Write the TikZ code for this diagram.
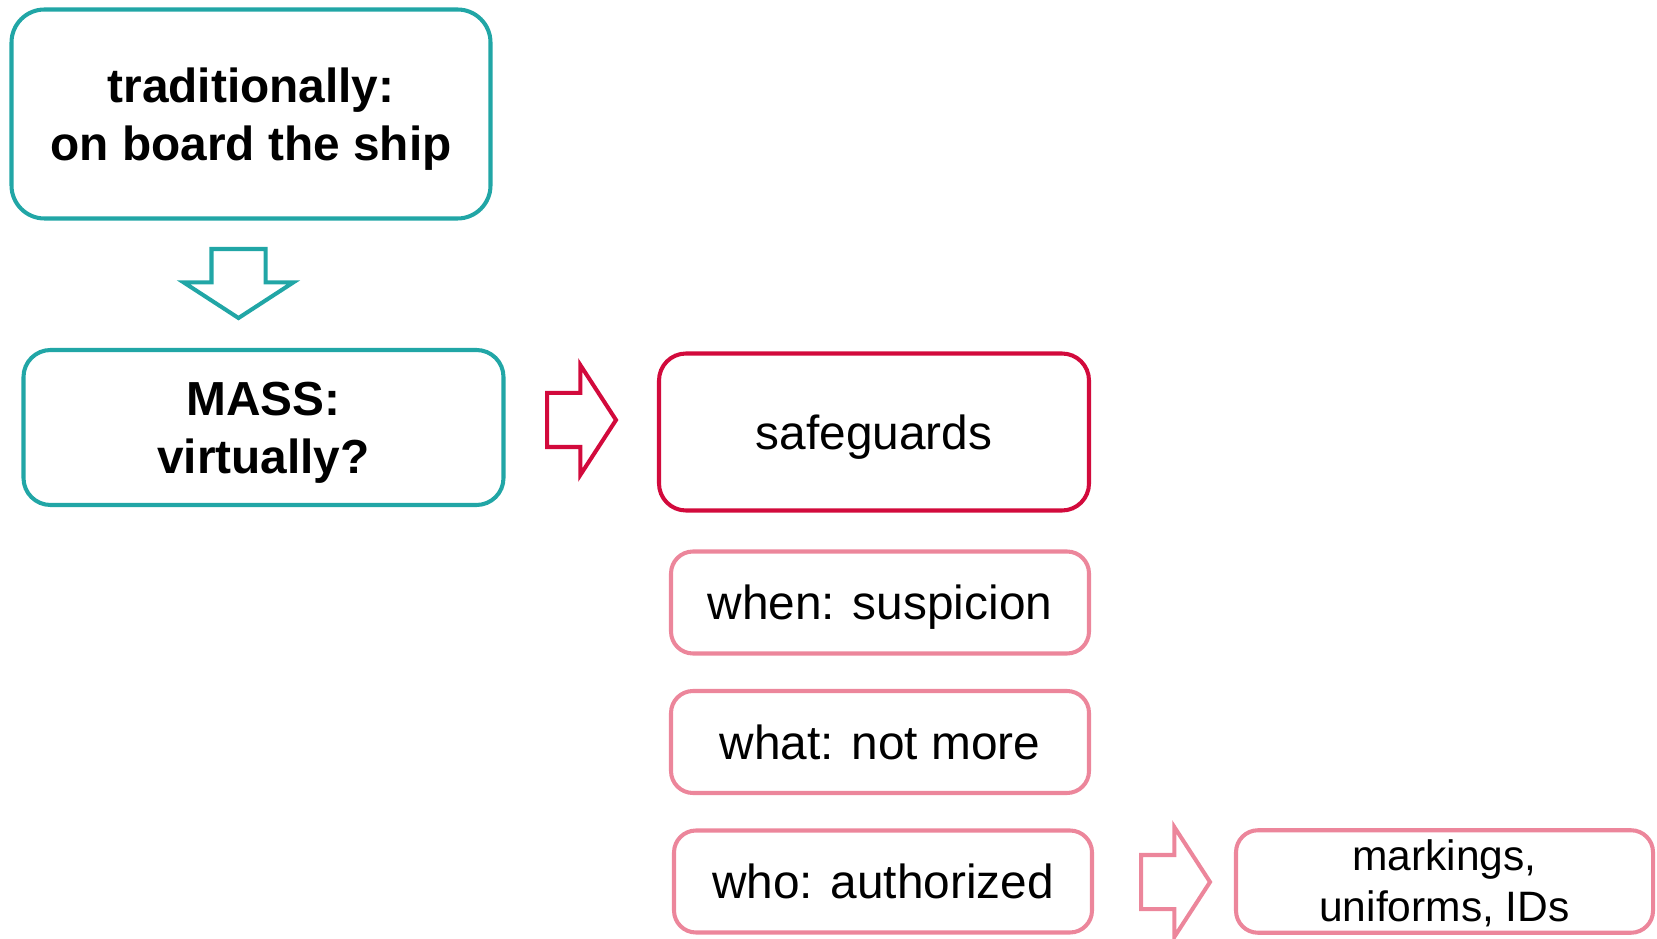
\documentclass[tikz,border=0pt]{standalone}
\usepackage{fontspec}
\setmainfont{Liberation Sans}
\usetikzlibrary{shapes.arrows}
\definecolor{tealline}{RGB}{33,166,166}
\definecolor{redline}{RGB}{210,10,60}
\definecolor{pinkline}{RGB}{236,134,155}
\tikzset{
    blockarrow/.style={single arrow,draw,line width=1.15pt,inner xsep=0pt,inner ysep=0.25cm,
        single arrow head extend=0.28cm,single arrow tip angle=114,minimum height=0.69cm,anchor=tail}
}
\begin{document}
\begin{tikzpicture}
        \useasboundingbox (0,0) rectangle (16.57,-9.39);

        \begin{scope}[every node/.style={draw=tealline,line width=1.15pt,rounded corners=0.27cm,align=center,
                font=\fontsize{13.6}{16.5}\selectfont\bfseries,text height=26.24pt,text depth=0pt}]
            \node[minimum width=4.79cm,minimum height=2.09cm,rounded corners=0.33cm] (trad) at (2.51,-1.14) {traditionally:\\on board the ship};
            \node[minimum width=4.80cm,minimum height=1.55cm] (mass) at (2.635,-4.275) {MASS:\\virtually?};
        \end{scope}
        \begin{scope}[every node/.style={line width=1.15pt,rounded corners=0.22cm,align=center,
                font=\fontsize{13.6}{14.5}\selectfont,minimum width=4.18cm,minimum height=1.02cm,
                text height=9.74pt,text depth=0pt}]
            \node[draw=redline,rounded corners=0.27cm,minimum width=4.30cm,minimum height=1.57cm] (safe) at (8.74,-4.32) {safeguards};
            \node[draw=pinkline] (when) at (8.80,-6.025) {when: suspicion};
            \node[draw=pinkline] (what) at (8.80,-7.42) {what: not more};
            \node[draw=pinkline] (who) at (8.83,-8.815) {who: authorized};
            \node[draw=pinkline,minimum width=4.17cm,font=\fontsize{12.1}{14.4}\selectfont,text height=22.5pt] (mark) at (14.445,-8.815) {markings,\\uniforms, IDs};
        \end{scope}

        \node[blockarrow,draw=tealline,rotate=-90] (down) at (2.385,-2.47) {};
        \node[blockarrow,draw=redline] (toward) at (5.45,-4.20) {};
        \node[blockarrow,draw=pinkline] (idarrow) at (11.39,-8.82) {};
\end{tikzpicture}
\end{document}
